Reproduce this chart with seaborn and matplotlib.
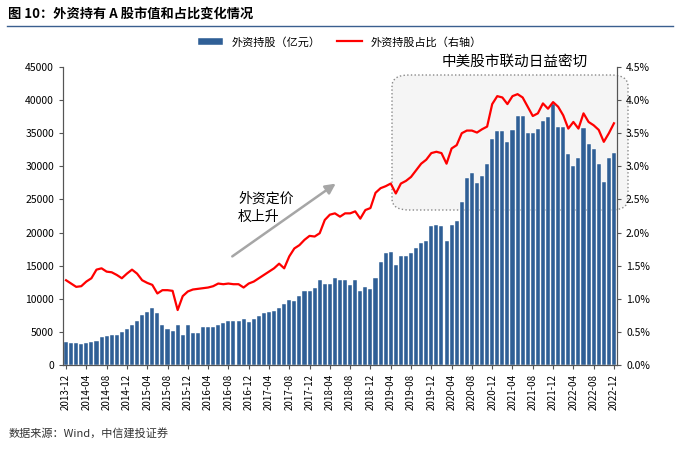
import matplotlib
matplotlib.use("Agg")
import matplotlib.pyplot as plt
import seaborn as sns
import pandas as pd
import numpy as np
from matplotlib.patches import FancyBboxPatch
from matplotlib.ticker import FuncFormatter

plt.rcParams["font.family"] = ["Noto Sans CJK SC", "DejaVu Sans"]

months = pd.period_range("2013-12", "2022-12", freq="M").strftime("%Y-%m").tolist()
holdings = [3.4,3.3,3.3,3.2,3.3,3.4,3.6,4.2,4.4,4.5,4.6,5.0,5.5,6.1,6.7,7.5,8.0,8.6,7.9,6.0,
            5.4,5.2,6.0,4.5,6.0,4.8,4.8,5.7,5.7,5.7,6.0,6.4,6.6,6.6,6.7,7.0,6.5,7.0,7.4,7.8,
            8.0,8.2,8.6,9.2,9.8,9.6,10.4,11.2,11.1,11.6,12.8,12.2,12.2,
            13.2,12.8,12.9,12.1,12.8,11.1,11.8,11.5,13.1,15.6,16.9,17.0,15.1,16.5,16.5,16.9,
            17.7,18.4,18.7,21.0,21.1,21.0,18.8,21.2,21.8,24.6,28.3,29.0,27.5,28.5,30.4,34.1,
            35.4,35.3,33.6,35.5,37.6,37.6,35.1,35.1,35.6,36.9,37.5,39.4,35.9,35.9,31.8,30.1,
            31.3,35.8,33.4,32.6,30.3,27.6,31.2,32.0]
share = [1.28,1.23,1.18,1.19,1.26,1.31,1.44,1.46,1.41,1.40,1.36,1.31,1.38,1.44,1.38,1.28,1.24,
         1.21,1.08,1.13,1.13,1.12,0.83,1.04,1.11,1.14,1.15,1.16,1.17,1.19,1.23,1.22,1.23,1.22,
         1.22,1.17,1.23,1.26,1.31,1.36,1.41,1.46,1.53,1.46,1.64,1.76,1.81,1.89,1.95,1.94,1.99,
         2.19,2.27,2.29,
         2.24,2.29,2.29,2.32,2.21,2.34,2.37,2.60,2.67,2.70,2.74,2.59,2.74,2.78,2.84,2.94,3.04,
         3.10,3.20,3.22,3.20,3.04,3.27,3.32,3.50,3.54,3.54,3.51,3.56,3.60,3.94,4.06,4.04,3.94,
         4.06,4.09,4.04,3.90,3.76,3.80,3.95,3.87,3.97,3.90,3.77,3.57,3.67,3.57,3.80,3.67,3.62,
         3.55,3.37,3.50,3.65]
n = min(len(months), len(holdings), len(share))
df = pd.DataFrame({"m": months[:n], "h": np.array(holdings[:n]) * 1000, "s": share[:n]})

fig = plt.figure(figsize=(6.8, 4.49), dpi=100)
ax = fig.add_axes([63/680, 1-365/449, (617-63)/680, (365-67)/449])
sns.barplot(data=df, x="m", y="h", color="#2F5F96", saturation=1, width=0.8,
            edgecolor="white", linewidth=0.3, ax=ax, label="外资持股（亿元）", zorder=2)
if ax.get_legend() is not None:
    ax.get_legend().remove()
ax2 = ax.twinx()
ax2.plot(np.arange(n), df["s"], color="#FF0000", lw=1.6, label="外资持股占比（右轴）")
ax.set_ylim(0, 45000); ax2.set_ylim(0, 4.5)
ax.set_yticks(np.arange(0, 45001, 5000))
ax2.set_yticks(np.arange(0, 4.51, 0.5))
ax2.yaxis.set_major_formatter(FuncFormatter(lambda v, p: f"{v:.1f}%"))
ax.set_xlim(-0.6, n - 0.4)
ax.set_xticks(range(0, n, 4))
ax.set_xticklabels([df["m"][i] for i in range(0, n, 4)], rotation=90, fontsize=7)
ax.set_xlabel(""); ax.set_ylabel("")
for a in (ax, ax2):
    a.tick_params(labelsize=7.5, length=3, color="#555555")
    a.spines["top"].set_visible(False)
    for s in ["left", "right", "bottom"]:
        a.spines[s].set_color("#555555")
ax.tick_params(axis="x", labelsize=7)

h1, l1 = ax.get_legend_handles_labels()
h2, l2 = ax2.get_legend_handles_labels()
fig.legend(h1[:1] + h2, l1[:1] + l2, loc="center", bbox_to_anchor=(0.5, 1-42/449), ncol=2,
           frameon=False, fontsize=8, handlelength=2.2, columnspacing=1.5)

fig.text(0.012, 1-14/449, "图 10：外资持有 A 股市值和占比变化情况", fontsize=9.5,
         fontweight="bold", va="center")
fig.add_artist(plt.Line2D([0.01, 0.99], [1-26/449, 1-26/449], color="#3A5F8F", lw=1))
fig.text(0.012, 1-434/449, "数据来源：Wind，中信建投证券", fontsize=8, style="italic",
         va="center", color="#333333")

box = FancyBboxPatch((392/680, 1-210/449), (628-392)/680, (210-75)/449,
                     boxstyle="round,pad=0,rounding_size=0.025", transform=fig.transFigure,
                     facecolor="#F5F5F5", edgecolor="#888888", ls=":", lw=1,
                     zorder=0.5, clip_on=False)
ax.add_artist(box)
fig.text(515/680, 1-62/449, "中美股市联动日益密切", fontsize=10.5, ha="center", va="center")
fig.text(238/680, 1-208/449, "外资定价\n权上升", fontsize=10, ha="left", va="center",
         linespacing=1.4)
fig.add_artist(matplotlib.patches.FancyArrowPatch((230/680, 1-258/449), (338/680, 1-182/449),
               transform=fig.transFigure, arrowstyle="-|>,head_length=6,head_width=3",
               color="#A6A6A6", lw=1.8))
fig.savefig("out.png", dpi=100)
